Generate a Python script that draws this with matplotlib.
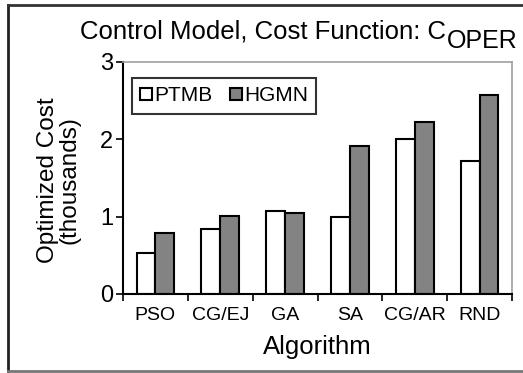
import numpy as np
import matplotlib
matplotlib.use('Agg')
import matplotlib.pyplot as plt
from matplotlib.lines import Line2D

plt.rcParams['font.family'] = ['Liberation Sans', 'DejaVu Sans']

# Optimized cost (thousands) per algorithm
algorithms = ['PSO', 'CG/EJ', 'GA', 'SA', 'CG/AR', 'RND']
ptmb = [0.53, 0.84, 1.07, 1.00, 2.00, 1.72]
hgmn = [0.79, 1.01, 1.05, 1.91, 2.22, 2.57]

W, H = 523, 373
fig = plt.figure(figsize=(W / 100, H / 100), dpi=100)
ax = fig.add_axes([123 / W, 1 - 294 / H, 389 / W, 232 / H])

x = np.arange(len(algorithms))
w = 0.29
ax.bar(x - w / 2, ptmb, w, color='white', edgecolor='black', linewidth=1.5, label='PTMB')
ax.bar(x + w / 2, hgmn, w, color='#838383', edgecolor='black', linewidth=1.5, label='HGMN')

ax.set_xlim(-0.5, len(algorithms) - 0.5)
ax.set_ylim(0, 3)
ax.set_yticks([0, 1, 2, 3])
ax.tick_params(axis='y', labelsize=17, length=5, width=1.2, direction='out', pad=2)

# ticks on the group boundaries, labels centred under each group
ax.set_xticks(np.arange(-0.5, len(algorithms), 1.0))
ax.set_xticklabels([])
ax.set_xticks(x, minor=True)
ax.set_xticklabels(algorithms, minor=True)
ax.tick_params(axis='x', which='major', length=5, width=1.2, direction='out')
ax.tick_params(axis='x', which='minor', length=0, labelsize=14, pad=9)

for side in ['left', 'bottom']:
    ax.spines[side].set_linewidth(1.5)
    ax.spines[side].set_color('black')
for side in ['top', 'right']:
    ax.spines[side].set_linewidth(1.2)
    ax.spines[side].set_color('#a0a0a0')

ax.set_xlabel('Algorithm', fontsize=18.5)
ax.xaxis.set_label_coords(0.5, -0.175)
ax.set_ylabel('Optimized Cost\n(thousands)', fontsize=17.5, linespacing=0.95)
ax.yaxis.set_label_coords(-0.11, 0.49)

# title with a full-size lowered subscript
fig.text(446 / W, 1 - 38 / H, 'Control Model, Cost Function: C',
         fontsize=18.5, ha='right', va='baseline')
fig.text(447 / W, 1 - 48 / H, 'OPER', fontsize=18, ha='left', va='baseline')

leg = ax.legend(loc='upper left', ncol=2, fontsize=15, frameon=True, fancybox=False,
                edgecolor='black', handlelength=0.58, handleheight=0.55,
                handletextpad=0.08, columnspacing=0.85, borderpad=0.4,
                borderaxespad=0, bbox_to_anchor=(9 / 389, 1 - 16 / 232))
leg.get_frame().set_linewidth(1.5)

# outer frame around the figure
fig.add_artist(Line2D([8 / W, 8 / W], [1 - 5 / H, 1 - 371 / H],
                      transform=fig.transFigure, color='#222222', lw=2))
fig.add_artist(Line2D([8 / W, 1], [1 - 5 / H, 1 - 5 / H],
                      transform=fig.transFigure, color='#333333', lw=2))
fig.add_artist(Line2D([8 / W, 1], [1 - 371 / H, 1 - 371 / H],
                      transform=fig.transFigure, color='#777777', lw=2))

fig.savefig('out.png', dpi=100)
